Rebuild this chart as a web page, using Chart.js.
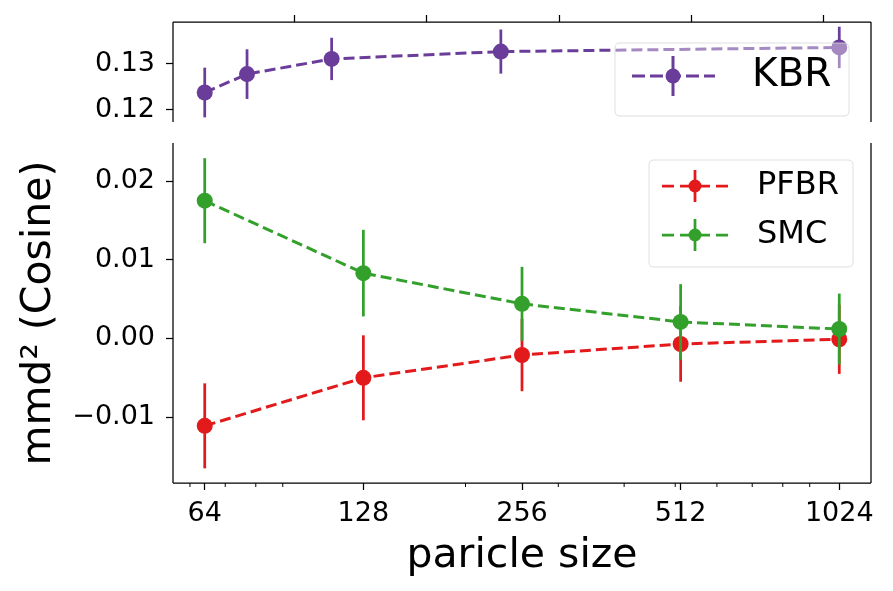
<!DOCTYPE html>
<html><head><meta charset="utf-8">
<script src="https://cdn.jsdelivr.net/npm/chart.js@4"></script>
<style>
html,body{margin:0;padding:0;background:#fff;}
#wrap{position:relative;width:893px;height:591px;overflow:hidden;background:#fff}
#c1{position:absolute;left:0;top:0}
#c2{position:absolute;left:0;top:132px}
</style></head><body>
<div id="wrap">
<canvas id="c1" width="893" height="132"></canvas>
<canvas id="c2" width="893" height="459"></canvas>
</div>
<script>
// ---- data ----
const particleSizes = [64, 128, 256, 512, 1024];
const kbrMean  = [0.1238, 0.1278, 0.1311, 0.1327, 0.1336];
const kbrErr   = [0.0054, 0.0054, 0.0046, 0.0048, 0.0045];
const pfbrMean = [-0.0111, -0.0050, -0.0021, -0.0007, -0.0001];
const pfbrErr  = [0.0054, 0.0054, 0.0046, 0.0048, 0.0044];
const smcMean  = [0.0175, 0.0083, 0.0044, 0.0021, 0.0012];
const smcErr   = [0.0054, 0.0055, 0.0047, 0.0048, 0.0045];
const topXTicks = [200, 400, 600, 800, 1000];
const topYTicks = [0.12, 0.13];
const bottomYTicks = [-0.01, 0.00, 0.01, 0.02];
const bottomXTicks = [64, 128, 256, 512, 1024];
const minorXTicks = [60, 70, 80, 90, 200, 300, 400, 500, 600, 700, 800, 900];
const seriesNames = ['KBR', 'PFBR', 'SMC'];
const xTitle = 'paricle size';
const yTitle = 'mmd² (Cosine)';

const COL = {KBR: '#6a3d9a', PFBR: '#e31a1c', SMC: '#33a02c'};
Chart.defaults.font.family = "'DejaVu Sans', sans-serif";
Chart.defaults.color = '#000';

function fmtY(v) {
  const r = Math.round(v * 100) / 100;
  return (r < 0 ? '\u2212' : '') + Math.abs(r).toFixed(2);
}
function pts(ys) { return particleSizes.map((s, i) => ({x: s, y: ys[i]})); }
function ds(name, ys, errs, order) {
  return {
    label: name, data: pts(ys), errors: errs, order: order,
    borderColor: COL[name], backgroundColor: COL[name],
    borderWidth: 3, borderDash: [11, 5], tension: 0, fill: false,
    pointRadius: 8, pointBorderWidth: 0, pointBackgroundColor: COL[name],
    pointHoverRadius: 8
  };
}
function noPad(s) { s.paddingTop = 0; s.paddingBottom = 0; s.paddingLeft = 0; s.paddingRight = 0; }

// error bars, drawn through the dataset's own scales
const errorBarPlugin = {
  id: 'errorBars',
  beforeDatasetDraw(chart, args) {
    const d = chart.data.datasets[args.index];
    if (!d.errors) return;
    const meta = args.meta;
    const ys = chart.scales[meta.yAxisID];
    const ctx = chart.ctx;
    ctx.save();
    ctx.strokeStyle = d.borderColor; ctx.lineWidth = 2.75; ctx.setLineDash([]);
    meta.data.forEach((el, i) => {
      const v = d.data[i].y, e = d.errors[i];
      ctx.beginPath();
      ctx.moveTo(el.x, ys.getPixelForValue(v - e));
      ctx.lineTo(el.x, ys.getPixelForValue(v + e));
      ctx.stroke();
    });
    ctx.restore();
  }
};

function roundRect(ctx, x, y, w, h, r) {
  ctx.beginPath();
  ctx.moveTo(x + r, y); ctx.lineTo(x + w - r, y); ctx.quadraticCurveTo(x + w, y, x + w, y + r);
  ctx.lineTo(x + w, y + h - r); ctx.quadraticCurveTo(x + w, y + h, x + w - r, y + h);
  ctx.lineTo(x + r, y + h); ctx.quadraticCurveTo(x, y + h, x, y + h - r);
  ctx.lineTo(x, y + r); ctx.quadraticCurveTo(x, y, x + r, y);
  ctx.closePath();
}

const framePlugin = {
  id: 'frame',
  afterDatasetsDraw(chart, args, o) {
    const ctx = chart.ctx, a = chart.chartArea;
    ctx.save();
    ctx.strokeStyle = '#000'; ctx.lineWidth = 1.25; ctx.setLineDash([]);
    ctx.beginPath();
    ctx.moveTo(a.left, a.top); ctx.lineTo(a.left, a.bottom);
    ctx.moveTo(a.right, a.top); ctx.lineTo(a.right, a.bottom);
    if (o.top) { ctx.moveTo(a.left, a.top); ctx.lineTo(a.right, a.top); }
    if (o.bottom) { ctx.moveTo(a.left, a.bottom); ctx.lineTo(a.right, a.bottom); }
    ctx.stroke();
    if (o.minor) {
      const xs = chart.scales.x;
      ctx.lineWidth = 1;
      ctx.beginPath();
      o.minor.forEach(v => {
        const px = xs.getPixelForValue(v);
        ctx.moveTo(px, a.bottom); ctx.lineTo(px, a.bottom + 4);
      });
      ctx.stroke();
    }
    // legend
    const L = o.legend;
    if (L) {
      roundRect(ctx, L.x, L.y, L.w, L.h, 5);
      ctx.fillStyle = 'rgba(255,255,255,' + L.alpha + ')'; ctx.fill();
      ctx.strokeStyle = 'rgba(215,215,215,0.8)'; ctx.lineWidth = 1; ctx.stroke();
      chart.data.datasets.forEach((d, i) => {
        const y = L.rows[i];
        const c = d.borderColor;
        ctx.strokeStyle = c; ctx.fillStyle = c;
        ctx.lineWidth = L.lw; ctx.setLineDash(L.dash);
        ctx.beginPath(); ctx.moveTo(L.hx0, y); ctx.lineTo(L.hx1, y); ctx.stroke();
        ctx.setLineDash([]);
        ctx.beginPath(); ctx.moveTo(L.hm, y - L.eb); ctx.lineTo(L.hm, y + L.eb); ctx.stroke();
        ctx.beginPath(); ctx.arc(L.hm, y, L.r, 0, Math.PI * 2); ctx.fill();
        ctx.fillStyle = '#000';
        ctx.font = L.font + "px 'DejaVu Sans', sans-serif";
        ctx.textBaseline = 'middle'; ctx.textAlign = 'left';
        ctx.fillText(d.label, L.tx, y);
      });
    }
    ctx.restore();
  }
};

const tickGrid = {display: true, drawOnChartArea: false, drawTicks: true, tickLength: 7,
                  tickColor: '#000', tickWidth: 1.25};

// ---- top panel (KBR, linear x) ----
new Chart(document.getElementById('c1'), {
  type: 'line',
  data: {datasets: [ds(seriesNames[0], kbrMean, kbrErr, 1)]},
  options: {
    responsive: false, animation: false, devicePixelRatio: 1,
    layout: {padding: {left: 0, right: 22, top: 0, bottom: 10}},
    plugins: {
      legend: {display: false}, tooltip: {enabled: false},
      frame: {top: true, bottom: false,
        legend: {x: 615, y: 43, w: 234, h: 73, rows: [76], hx0: 632, hx1: 715, hm: 673, alpha: 0.4,
                 eb: 20, r: 7.5, lw: 3, dash: [13, 5], tx: 752, font: 39}}
    },
    scales: {
      x: {type: 'linear', position: 'top', min: 16, max: 1072,
          afterBuildTicks: s => { s.ticks = topXTicks.map(v => ({value: v})); },
          afterFit: s => { s.height = 22; noPad(s); },
          ticks: {callback: () => '', maxRotation: 0, autoSkip: false, font: {size: 27}},
          grid: tickGrid, border: {display: false}},
      y: {type: 'linear', min: 0.11739, max: 0.13913,
          afterBuildTicks: s => { s.ticks = topYTicks.map(v => ({value: v})); },
          afterFit: s => { s.width = 173; noPad(s); },
          ticks: {callback: v => fmtY(v), padding: 11, font: {size: 27}},
          grid: tickGrid, border: {display: false}}
    }
  },
  plugins: [errorBarPlugin, framePlugin]
});

// ---- bottom panel (PFBR, SMC, log x) ----
new Chart(document.getElementById('c2'), {
  type: 'line',
  data: {datasets: [ds(seriesNames[1], pfbrMean, pfbrErr, 2), ds(seriesNames[2], smcMean, smcErr, 1)]},
  options: {
    responsive: false, animation: false, devicePixelRatio: 1,
    layout: {padding: {left: 0, right: 22, top: 11, bottom: 0}},
    plugins: {
      legend: {display: false}, tooltip: {enabled: false},
      frame: {top: false, bottom: true, minor: minorXTicks,
        legend: {x: 649, y: 28, w: 204, h: 107, rows: [54, 103], hx0: 662, hx1: 728, hm: 695, alpha: 0.8,
                 eb: 16, r: 6.5, lw: 2.75, dash: [12, 6], tx: 757, font: 32}}
    },
    scales: {
      x: {type: 'logarithmic', position: 'bottom',
          min: particleSizes[0] / Math.pow(2, 0.2), max: particleSizes[particleSizes.length - 1] * Math.pow(2, 0.2),
          afterBuildTicks: s => { s.ticks = bottomXTicks.map(v => ({value: v})); },
          afterFit: s => { s.height = 108; noPad(s); },
          ticks: {callback: v => String(v), maxRotation: 0, minRotation: 0, autoSkip: false, padding: 8, font: {size: 27}},
          title: {display: true, text: xTitle, font: {size: 41}, padding: {top: 0, bottom: 10}},
          grid: tickGrid, border: {display: false}},
      y: {type: 'linear', min: -0.01836, max: 0.02483,
          afterBuildTicks: s => { s.ticks = bottomYTicks.map(v => ({value: v})); },
          afterFit: s => { s.width = 173; noPad(s); },
          ticks: {callback: v => fmtY(v), padding: 11, font: {size: 27}},
          title: {display: true, text: yTitle, font: {size: 41}, padding: {top: 15, bottom: 0}},
          grid: tickGrid, border: {display: false}}
    }
  },
  plugins: [errorBarPlugin, framePlugin]
});
</script>
</body></html>
